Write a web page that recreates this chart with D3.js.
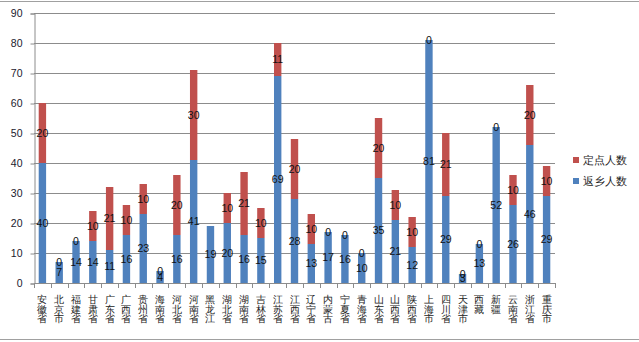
<!DOCTYPE html>
<html>
<head>
<meta charset="utf-8">
<script src="https://cdn.jsdelivr.net/npm/d3@7"></script>
<style>
  html, body { margin: 0; padding: 0; background: #fff; }
  svg { display: block; }
  text { font-family: "Liberation Sans", Arial, sans-serif; }
  .cjk { font-family: "Noto Sans CJK SC", sans-serif; }
</style>
</head>
<body>
<svg id="chart" width="639" height="342"></svg>
<script>
// Provinces / municipalities along the x axis
const provinces = ["安徽省","北京市","福建省","甘肃省","广东省","广西省","贵州省","海南省","河北省","河南省",
  "黑龙江","湖北省","湖南省","吉林省","江苏省","江西省","辽宁省","内蒙古","宁夏省","青海省",
  "山东省","山西省","陕西省","上海市","四川省","天津市","西藏","新疆","云南省","浙江省","重庆市"];

// 返乡人数 (bottom segment)
const returnCounts = [40,7,14,14,11,16,23,4,16,41,19,20,16,15,69,28,13,17,16,10,35,21,12,81,29,3,13,52,26,46,29];

// 定点人数 (stacked on top); null = no entry
const fixedCounts = [20,0,0,10,21,10,10,0,20,30,null,10,21,10,11,20,10,0,0,0,20,10,10,0,21,0,0,0,10,20,10];

const yTicks = [0,10,20,30,40,50,60,70,80,90];

const seriesNames = ["返乡人数", "定点人数"];
const seriesColors = ["#4F81BD", "#C0504D"];

const svg = d3.select("#chart");
const plotLeft = 34, plotRight = 555, plotTop = 13, plotBottom = 283;

// frame lines of the chart area
svg.append("line").attr("x1", 0).attr("x2", 639).attr("y1", 1.5).attr("y2", 1.5)
  .attr("stroke", "#a0a0a0").attr("stroke-width", 1);
svg.append("line").attr("x1", 0).attr("x2", 639).attr("y1", 339.5).attr("y2", 339.5)
  .attr("stroke", "#a0a0a0").attr("stroke-width", 1);

const y = d3.scaleLinear().domain([0, 90]).range([plotBottom, plotTop]);
const xSlot = d3.scaleBand().domain(provinces).range([plotLeft, plotRight]).padding(0);
const x = d3.scaleBand().domain(provinces).range([plotLeft, plotRight])
  .paddingInner(0.56).paddingOuter(0.28);

// gridlines
svg.append("g").selectAll("line").data(yTicks.filter(d => d > 0)).join("line")
  .attr("x1", plotLeft).attr("x2", plotRight)
  .attr("y1", d => Math.round(y(d)) + 0.5).attr("y2", d => Math.round(y(d)) + 0.5)
  .attr("stroke", "#8c8c8c").attr("stroke-width", 1);

// y axis
const yAxis = svg.append("g").attr("transform", `translate(${plotLeft + 0.5},0.5)`)
  .call(d3.axisLeft(y).tickValues(yTicks).tickSize(4).tickPadding(8));
yAxis.select(".domain").attr("stroke", "#8c8c8c");
yAxis.selectAll(".tick line").attr("stroke", "#8c8c8c");
yAxis.selectAll(".tick text").attr("fill", "#1a1a2e")
  .attr("font-family", "'DejaVu Sans', sans-serif").attr("font-size", 10.5);

// stacked data
const rows = provinces.map((p, i) => ({ name: p, a: returnCounts[i], b: fixedCounts[i] }));

const bars = svg.append("g");
rows.forEach(r => {
  const x0 = x(r.name), w = x.bandwidth();
  bars.append("rect").attr("x", x0).attr("width", w)
    .attr("y", y(r.a)).attr("height", y(0) - y(r.a)).attr("fill", seriesColors[0]);
  if (r.b !== null && r.b > 0) {
    bars.append("rect").attr("x", x0).attr("width", w)
      .attr("y", y(r.a + r.b)).attr("height", y(r.a) - y(r.a + r.b)).attr("fill", seriesColors[1]);
  }
});

// x axis line and category ticks
svg.append("line").attr("x1", plotLeft).attr("x2", plotRight + 1)
  .attr("y1", plotBottom + 0.5).attr("y2", plotBottom + 0.5).attr("stroke", "#8c8c8c");
svg.append("g").selectAll("line").data(d3.range(provinces.length + 1)).join("line")
  .attr("x1", i => Math.round(plotLeft + i * xSlot.step()) + 0.5)
  .attr("x2", i => Math.round(plotLeft + i * xSlot.step()) + 0.5)
  .attr("y1", plotBottom).attr("y2", plotBottom + 5).attr("stroke", "#8c8c8c");

// vertical category labels, one character per line
const labels = svg.append("g").attr("class", "cjk");
provinces.forEach(p => {
  const cx = xSlot(p) + xSlot.bandwidth() / 2;
  const t = labels.append("text")
    .attr("x", cx).attr("y", 303)
    .attr("text-anchor", "middle")
    .attr("font-size", 9.5).attr("fill", "#222");
  Array.from(p).forEach((ch, k) => {
    t.append("tspan").attr("x", cx).attr("dy", k === 0 ? 0 : 9.6).text(ch);
  });
});

// value labels centred on each segment
const vl = svg.append("g").attr("font-family", "'DejaVu Sans', sans-serif")
  .attr("font-size", 10.5).attr("fill", "#111").attr("text-anchor", "middle");
rows.forEach(r => {
  const cx = x(r.name) + x.bandwidth() / 2;
  vl.append("text").attr("x", cx).attr("y", y(r.a / 2)).attr("dy", "0.36em").text(r.a);
  if (r.b !== null) {
    vl.append("text").attr("x", cx).attr("y", y(r.a + r.b / 2)).attr("dy", "0.36em").text(r.b);
  }
});

// legend
const legend = svg.append("g").attr("class", "cjk");
[[1, 160], [0, 181]].forEach(([s, cy]) => {
  legend.append("rect").attr("x", 573).attr("y", cy - 3).attr("width", 6).attr("height", 6)
    .attr("fill", seriesColors[s]);
  legend.append("text").attr("x", 583).attr("y", cy).attr("dy", "0.38em")
    .attr("font-size", 11).attr("fill", "#222").text(seriesNames[s]);
});
</script>
</body>
</html>
